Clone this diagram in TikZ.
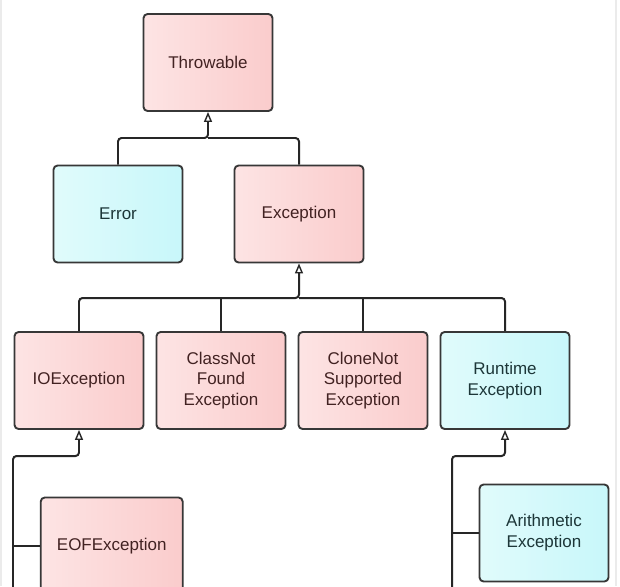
\documentclass[tikz,border=0pt]{standalone}
\usepackage{fontspec}
\setmainfont{Liberation Sans}
\usetikzlibrary{arrows.meta}

\definecolor{pinkA}{RGB}{253,228,228}
\definecolor{pinkB}{RGB}{250,204,204}
\definecolor{cyanA}{RGB}{224,251,251}
\definecolor{cyanB}{RGB}{200,247,250}
\definecolor{boxline}{RGB}{55,55,55}
\definecolor{pinktext}{RGB}{66,34,34}
\definecolor{cyantext}{RGB}{28,54,56}

\tikzset{
  cls/.style={draw=boxline, line width=1.6pt, rounded corners=3.5pt,
    minimum width=3.87cm, minimum height=2.91cm, align=center,
    font=\fontsize{14.5}{17.8}\selectfont},
  checked/.style={cls, left color=pinkA, right color=pinkB, text=pinktext},
  unchecked/.style={cls, left color=cyanA, right color=cyanB, text=cyantext},
  link/.style={draw=black!85, line width=1.7pt, rounded corners=3pt},
  isa/.style={link, -{Triangle[open, length=0.3cm, width=0.24cm, line width=1.2pt]}}
}

\begin{document}
\begin{tikzpicture}[x=0.03cm, y=-0.03cm]

\useasboundingbox[fill=white] (0,0) rectangle (620,586);
\draw[black!8, line width=1pt] (1,0) -- (1,586);
\draw[black!8, line width=1pt] (616,0) -- (616,586);

% Top of the hierarchy
\node[checked] (thr) at (208,62.5) {Throwable};

% Second level
\node[unchecked] (err) at (118,214) {Error};
\node[checked] (exc) at (299,214) {Exception};

% Third level
\node[checked] (io)  at (79,380.5)  {IOException};
\node[checked] (cnf) at (221,380.5) {ClassNot\\Found\\Exception};
\node[checked] (cns) at (363,380.5) {CloneNot\\Supported\\Exception};
\node[unchecked] (rt) at (505,380.5) {Runtime\\Exception};

% Fourth level
\node[checked, minimum width=4.26cm] (eof) at (111.7,546) {EOFException};
\node[unchecked] (ari) at (544,533) {Arithmetic\\Exception};

% Throwable branch
\coordinate (thrj) at (208,138);
\draw[isa] (err.north) |- (thrj) -- (thr.south);
\draw[link] (exc.north) |- (thrj);

% Exception branch
\coordinate (excj) at (299,298);
\draw[isa] (io.north) |- (excj) -- (exc.south);
\draw[link] (cnf.north) -- (cnf.north |- excj);
\draw[link] (cns.north) -- (cns.north |- excj);
\draw[link] (rt.north) |- (excj);

% IOException branch
\coordinate (iobend) at (13,456);
\coordinate (ioend) at (13,590);
\draw[isa] (ioend) -- (iobend) -| (io.south);
\draw[link] (eof.west) -- (eof.west -| iobend);

% RuntimeException branch
\coordinate (rtbend) at (452,456);
\coordinate (rtend) at (452,590);
\draw[isa] (rtend) -- (rtbend) -| (rt.south);
\draw[link] (ari.west) -- (ari.west -| rtbend);

\end{tikzpicture}
\end{document}
